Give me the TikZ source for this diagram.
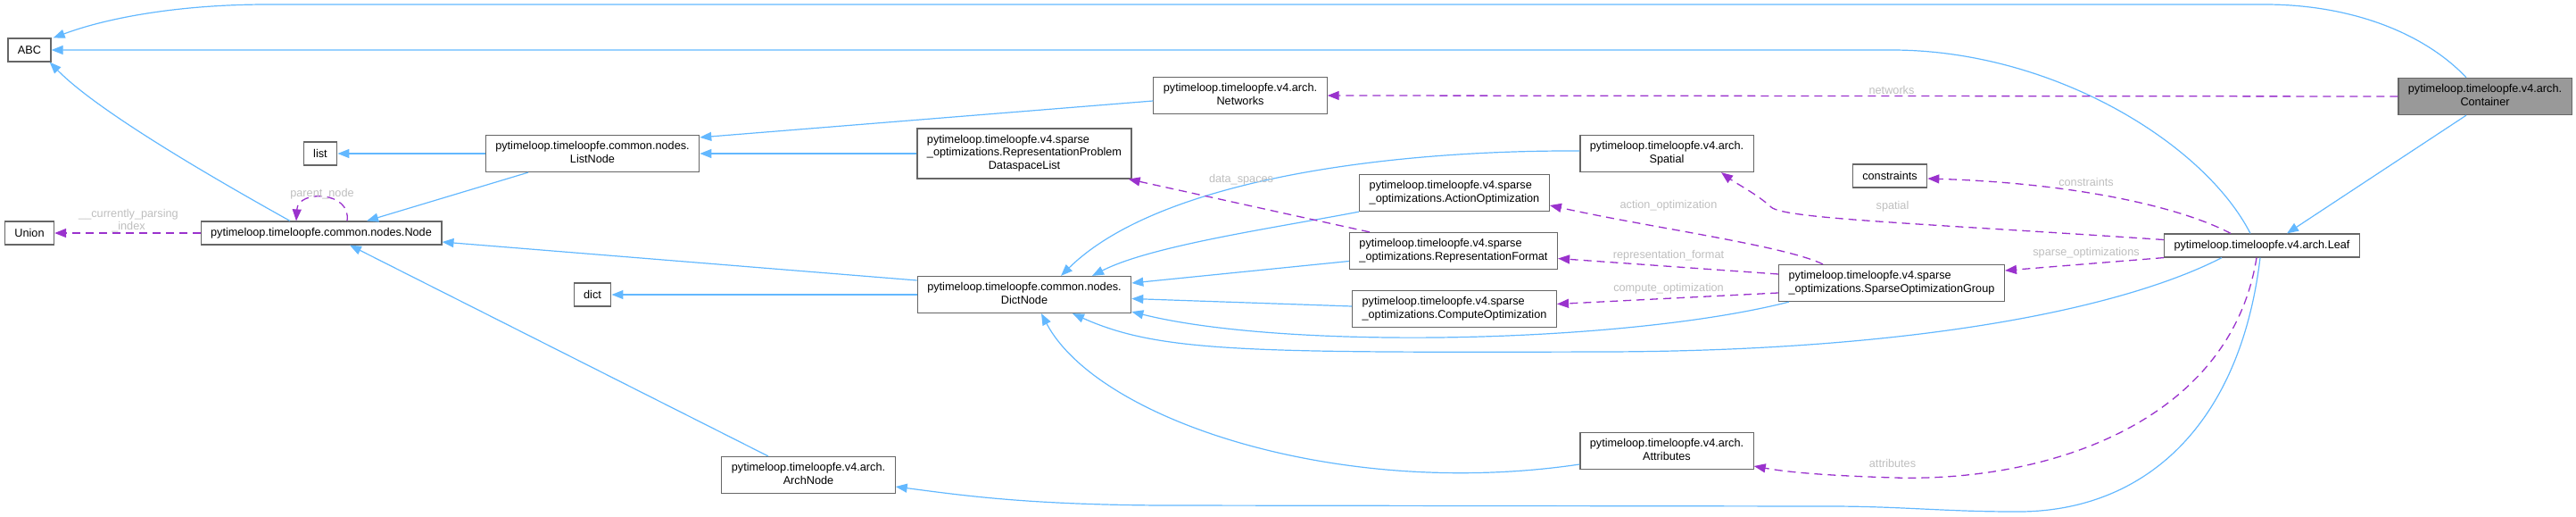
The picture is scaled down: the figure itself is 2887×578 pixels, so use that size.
\documentclass[tikz,border=0pt]{standalone}
\usepackage{fontspec}
\setmainfont{Liberation Sans}
\usetikzlibrary{arrows.meta}
\definecolor{inhblue}{HTML}{63B8FF}
\definecolor{usepurple}{HTML}{9A32CD}
\definecolor{lblgrey}{HTML}{BEBEBE}
\definecolor{boxborder}{HTML}{666666}
\definecolor{boxfill}{HTML}{999999}
\newcommand\dxl[2]{\begin{tabular}{@{}l@{}}#1\\\multicolumn{1}{@{}c@{}}{#2}\end{tabular}}
\begin{document}
\begin{tikzpicture}[x=1pt,y=-1pt,
  cls/.style={draw=boxborder, line width=1.2pt, fill=white, font=\fontsize{12.7}{14.5}\selectfont, inner xsep=11pt, inner ysep=3pt, minimum height=26pt},
  cls2/.style={cls, minimum height=41pt},
  cls3/.style={cls, minimum height=56pt},
  inh/.style={draw=inhblue, line width=1.2pt, -{Triangle[length=13pt,width=10pt]}},
  usage/.style={draw=usepurple, line width=1.3pt, dash pattern=on 9pt off 6pt, -{Triangle[length=13pt,width=10pt]}},
  lbl/.style={text=lblgrey, font=\fontsize{12.7}{14.5}\selectfont, inner sep=0pt, align=center}]
\useasboundingbox (0,0) rectangle (2887,578);
% nodes
\node[cls] (ABC) at (33,56) {ABC};
\node[cls] (list) at (359,172) {list};
\node[cls2] (ListNode) at (664,172) {\dxl{pytimeloop.timeloopfe.common.nodes.}{ListNode}};
\node[cls] (Union) at (33,261) {Union};
\node[cls] (Node) at (360,261) {pytimeloop.timeloopfe.common.nodes.Node};
\node[cls] (dict) at (664,330) {dict};
\node[cls2] (ArchNode) at (906,532) {\dxl{pytimeloop.timeloopfe.v4.arch.}{ArchNode}};
\node[cls2] (Networks) at (1390,107) {\dxl{pytimeloop.timeloopfe.v4.arch.}{Networks}};
\node[cls3] (RPDL) at (1148,172) {\dxl{pytimeloop.timeloopfe.v4.sparse\\\_optimizations.RepresentationProblem}{DataspaceList}};
\node[cls2] (Spatial) at (1868,172) {\dxl{pytimeloop.timeloopfe.v4.arch.}{Spatial}};
\node[cls2] (AO) at (1630,216) {\dxl{pytimeloop.timeloopfe.v4.sparse}{\_optimizations.ActionOptimization}};
\node[cls2] (RF) at (1629,281) {\dxl{pytimeloop.timeloopfe.v4.sparse}{\_optimizations.RepresentationFormat}};
\node[cls2] (DictNode) at (1148,330) {\dxl{pytimeloop.timeloopfe.common.nodes.}{DictNode}};
\node[cls2] (CO) at (1630,346) {\dxl{pytimeloop.timeloopfe.v4.sparse}{\_optimizations.ComputeOptimization}};
\node[cls2] (Attributes) at (1868,505) {\dxl{pytimeloop.timeloopfe.v4.arch.}{Attributes}};
\node[cls2, fill=boxfill] (Container) at (2785,108) {\dxl{pytimeloop.timeloopfe.v4.arch.}{Container}};
\node[cls] (constraints) at (2118,197) {constraints};
\node[cls] (Leaf) at (2535,275) {pytimeloop.timeloopfe.v4.arch.Leaf};
\node[cls2] (SOG) at (2120,317) {\dxl{pytimeloop.timeloopfe.v4.sparse}{\_optimizations.SparseOptimizationGroup}};
% inheritance edges
\draw[inh] ([xshift=-21pt]Container.north) .. controls (2720,40) and (2640,5) .. (2538,5) -- (300,5) .. controls (200,5) and (120,20) .. ([xshift=2pt]ABC.north east);
\draw[inh] ([xshift=-13pt]Leaf.north) .. controls (2470,160) and (2300,56) .. (2120,56) -- (ABC.east);
\draw[inh] ([xshift=-35pt]Node.north) .. controls (240,200) and (110,125) .. ([xshift=-2pt]ABC.south east);
\draw[inh] (ListNode.west) -- (list.east);
\draw[inh] ([xshift=-72pt]ListNode.south) -- ([xshift=51pt]Node.north);
\draw[inh] ([yshift=-6pt]Networks.west) -- ([yshift=-3pt]ListNode.north east);
\draw[inh] (RPDL.west) -- (ListNode.east);
\draw[inh] ([yshift=16pt]DictNode.west) -- ([yshift=-10pt]Node.east);
\draw[inh] (DictNode.west) -- (dict.east);
\draw[inh] ([xshift=-45pt]ArchNode.north) -- ([xshift=32pt]Node.south);
\draw[inh] ([yshift=3pt]Spatial.west) .. controls (1560,168) and (1300,200) .. ([xshift=41pt]DictNode.north);
\draw[inh] (AO.south west) .. controls (1430,255) and (1290,275) .. ([xshift=76pt]DictNode.north);
\draw[inh] ([yshift=-11.5pt]RF.west) -- ([yshift=13pt]DictNode.east);
\draw[inh] ([yshift=3pt]CO.west) -- ([yshift=-4.5pt]DictNode.east);
\draw[inh] ([xshift=-115pt]SOG.south) .. controls (1820,385) and (1440,392) .. ([yshift=2pt]DictNode.south east);
\draw[inh] ([xshift=-45pt]Leaf.south) .. controls (2380,345) and (2150,393) .. (1800,394) .. controls (1400,395) and (1300,395) .. ([xshift=54pt]DictNode.south);
\draw[inh] ([yshift=-15pt]Attributes.west) .. controls (1500,560) and (1230,470) .. ([xshift=19pt]DictNode.south);
\draw[inh] ([xshift=-2pt]Leaf.south) .. controls (2510,480) and (2400,575) .. (2257,573) .. controls (2180,573) and (2130,567) .. (2050,567) -- (1300,566) .. controls (1150,565) and (1080,555) .. ([yshift=-13pt]ArchNode.east);
\draw[inh] ([xshift=-21pt]Container.south) -- ([xshift=28pt]Leaf.north);
% usage edges
\draw[usage] (Node.west) -- (Union.east);
\draw[usage] ([xshift=29pt]Node.north) .. controls (394,214) and (334,212) .. ([xshift=-28pt]Node.north);
\draw[usage] (Container.west) -- (Networks.east);
\draw[usage] ([xshift=-35pt]Leaf.north) .. controls (2440,230) and (2320,205) .. ([yshift=-3pt]constraints.east);
\draw[usage] ([yshift=6.5pt]Leaf.west) .. controls (2150,250) and (2000,245) .. (1985,232) .. controls (1970,218) and (1945,205) .. ([xshift=61pt]Spatial.south);
\draw[usage] ([xshift=-77pt]SOG.north) .. controls (2000,275) and (1850,255) .. ([yshift=-14pt]AO.east);
\draw[usage] ([yshift=10pt]SOG.west) -- ([yshift=-8.5pt]RF.east);
\draw[usage] ([yshift=-11pt]SOG.west) -- ([yshift=5.5pt]CO.east);
\draw[usage] (Leaf.south west) -- ([yshift=14pt]SOG.east);
\draw[usage] ([xshift=-94pt]RF.north) -- ([xshift=-4pt]RPDL.south east);
\draw[usage] ([xshift=-6pt]Leaf.south) .. controls (2500,470) and (2300,540) .. (2123,535) .. controls (2060,533) and (2010,530) .. ([yshift=-17pt]Attributes.east);
% labels
\node[lbl] (lcp) at (144,247) {\_\_currently\_parsing\\\_index};
\node[lbl] (lpn) at (361,217) {parent\_node};
\node[lbl] (lnet) at (2120,101) {networks};
\node[lbl] (lcon) at (2338,204) {constraints};
\node[lbl] (lspa) at (2121,231) {spatial};
\node[lbl] (lso) at (2338,283) {sparse\_optimizations};
\node[lbl] (lao) at (1870,230) {action\_optimization};
\node[lbl] (lrf) at (1870,286) {representation\_format};
\node[lbl] (lco) at (1870,323) {compute\_optimization};
\node[lbl] (lds) at (1391,201) {data\_spaces};
\node[lbl] (latt) at (2121,519) {attributes};
\end{tikzpicture}
\end{document}
